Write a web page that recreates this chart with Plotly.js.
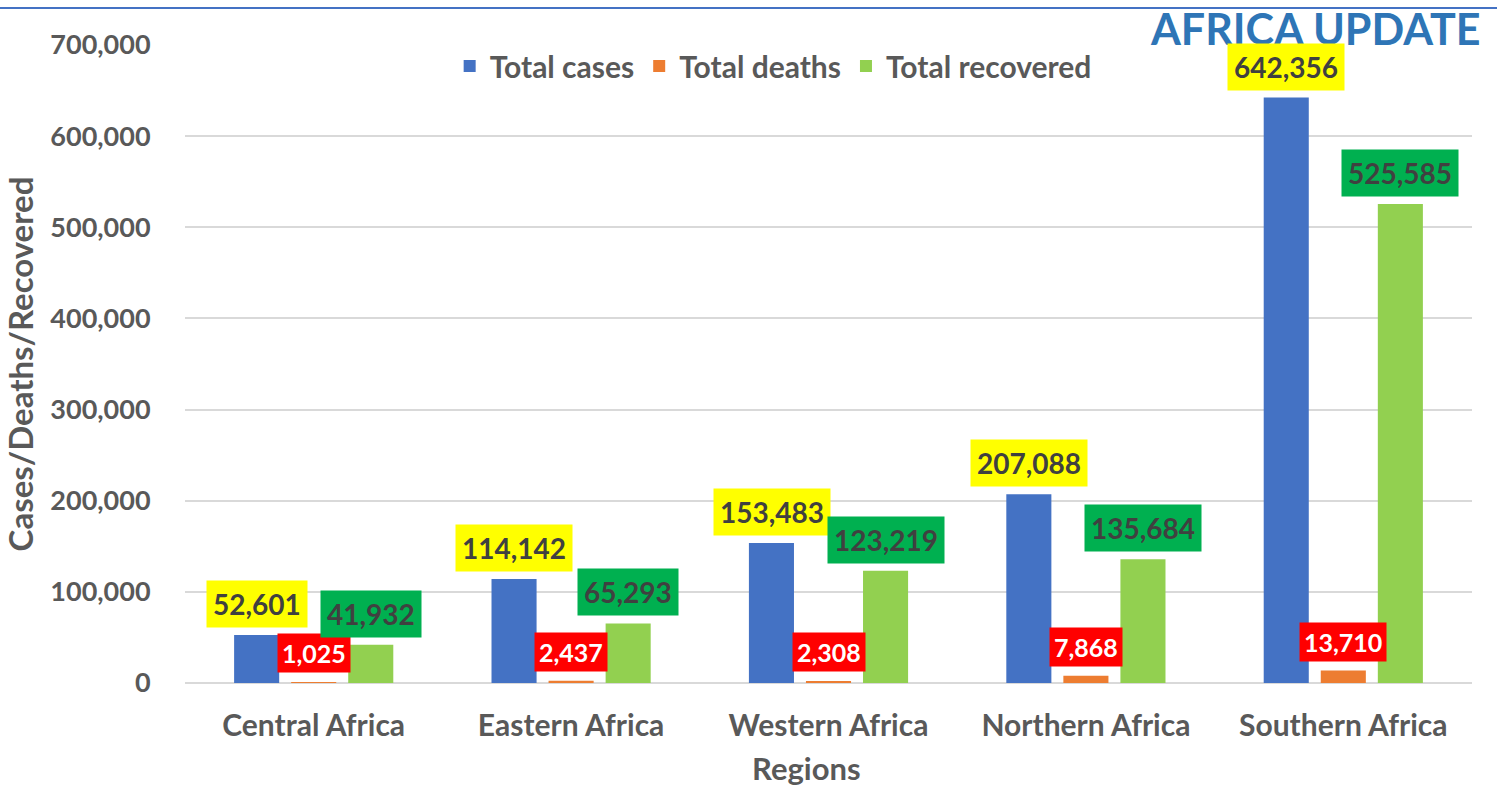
<!DOCTYPE html>
<html>
<head>
<meta charset="utf-8">
<script src="https://cdn.plot.ly/plotly-3.0.1.min.js"></script>
<style>
html,body{margin:0;padding:0;background:#fff;}
#chart{width:1497px;height:786px;}
</style>
</head>
<body>
<div id="chart"></div>
<script>
const regions = ["Central Africa", "Eastern Africa", "Western Africa", "Northern Africa", "Southern Africa"];
const totalCases = [52601, 114142, 153483, 207088, 642356];
const totalDeaths = [1025, 2437, 2308, 7868, 13710];
const totalRecovered = [41932, 65293, 123219, 135684, 525585];
const seriesNames = ["Total cases", "Total deaths", "Total recovered"];

const FONT = "Lato, 'Noto Sans', sans-serif";
const barColors = ["#4472C4", "#ED7D31", "#92D050"];
const labelBg = ["#FFFF00", "#FF0000", "#00B050"];
const labelFg = ["#404040", "#FFFFFF", "#404040"];
const labelSize = [28, 25, 28];
const labelPad = [6, 4, 6];
const labelShift = [31, 29, 31];
const slotPx = 57;

const seriesData = [totalCases, totalDeaths, totalRecovered];

const traces = seriesData.map((vals, i) => ({
  type: "bar",
  name: seriesNames[i],
  x: regions,
  y: vals,
  marker: {color: barColors[i]},
  hoverinfo: "x+y+name"
}));

const fmt = v => v.toLocaleString("en-US");
const annotations = [];
seriesData.forEach((vals, i) => {
  vals.forEach((v, j) => {
    annotations.push({
      x: regions[j], y: v, xref: "x", yref: "y",
      text: "<b>" + fmt(v) + "</b>",
      showarrow: false,
      xshift: (i - 1) * slotPx,
      yshift: labelShift[i],
      yanchor: "middle",
      bgcolor: labelBg[i],
      borderpad: labelPad[i],
      font: {family: FONT, size: labelSize[i], color: labelFg[i]}
    });
  });
});

annotations.push({
  xref: "paper", yref: "paper",
  x: 0.483, y: -0.134, xanchor: "center", yanchor: "middle",
  text: "<b>Regions</b>", showarrow: false,
  font: {family: FONT, size: 31, color: "#595959"}
});

const layout = {
  width: 1497, height: 786,
  margin: {l: 185, r: 25, t: 45, b: 103},
  paper_bgcolor: "#fff", plot_bgcolor: "#fff",
  barmode: "group",
  bargap: 0.335,
  bargroupgap: 0.21,
  font: {family: FONT, color: "#595959"},
  title: {
    text: "<b>AFRICA UPDATE</b>",
    font: {family: FONT, size: 43, color: "#2E75B6"},
    x: 0.989, xanchor: "right", xref: "container",
    y: 0.962, yanchor: "middle", yref: "container"
  },
  showlegend: true,
  legend: {
    orientation: "h",
    x: 0.457, xanchor: "center",
    y: 0.967, yanchor: "middle",
    font: {family: FONT, size: 30, color: "#595959", weight: "bold"},
    bgcolor: "rgba(0,0,0,0)",
    traceorder: "normal",
    itemwidth: 30
  },
  xaxis: {
    type: "category",
    showgrid: false,
    showline: false,
    zeroline: false,
    ticks: "outside", ticklen: 16, tickcolor: "rgba(0,0,0,0)",
    tickfont: {family: FONT, size: 30, color: "#595959", weight: "bold"}
  },
  yaxis: {
    range: [0, 700000],
    dtick: 100000,
    tickformat: ",d",
    showgrid: true,
    gridcolor: "#D9D9D9",
    gridwidth: 1.5,
    zeroline: true,
    zerolinecolor: "#D9D9D9",
    zerolinewidth: 1.5,
    showline: false,
    ticks: "outside", ticklen: 28, tickcolor: "rgba(0,0,0,0)",
    tickfont: {family: FONT, size: 27, color: "#595959", weight: "bold"},
    title: {text: "<b>Cases/Deaths/Recovered</b>", font: {family: FONT, size: 33, color: "#595959"}, standoff: 10}
  },
  annotations: annotations,
  shapes: [{
    type: "line", xref: "paper", yref: "paper",
    x0: -0.15, x1: 1.02, y0: 1.058, y1: 1.058,
    line: {color: "#4472C4", width: 2}
  }]
};

Plotly.newPlot("chart", traces, layout, {displayModeBar: false, responsive: false});
</script>
</body>
</html>
